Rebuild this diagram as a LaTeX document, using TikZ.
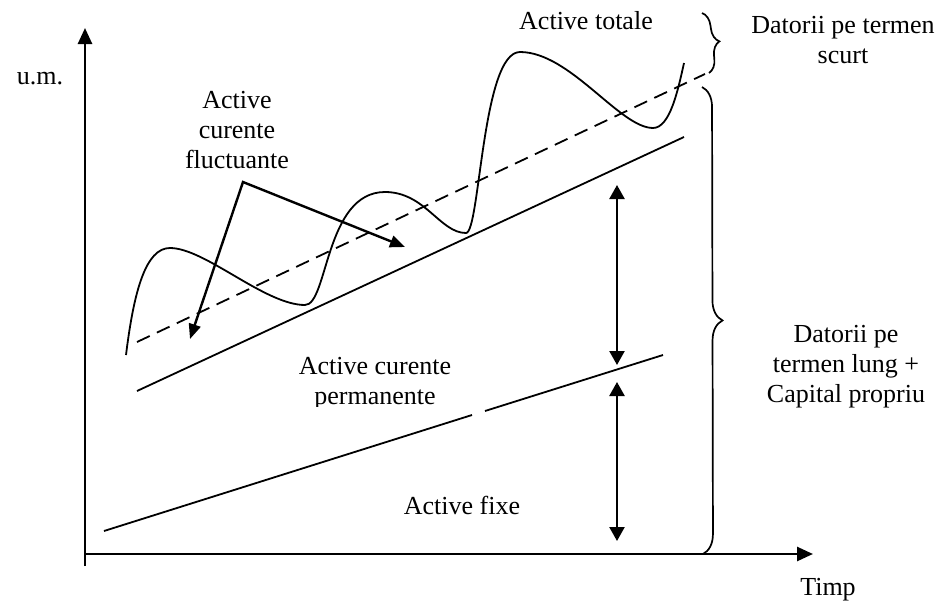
\documentclass[tikz,border=0pt]{standalone}
\usepackage{fontspec}
\setmainfont{Liberation Serif}
\usetikzlibrary{arrows.meta,decorations.pathreplacing}
\begin{document}
\begin{tikzpicture}[x=1pt,y=-1pt,
  lbl/.style={font=\fontsize{26}{30}\selectfont, align=center, inner sep=0pt},
  axisline/.style={line width=2.6pt, -{Triangle[length=16pt,width=14pt]}},
  curve/.style={line width=1.8pt},
  ptr/.style={line width=2.4pt, {Triangle[length=15pt,width=12pt]}-{Triangle[length=15pt,width=12pt]}},
  dbl/.style={line width=2.4pt, {Triangle[length=14pt,width=15pt]}-{Triangle[length=14pt,width=15pt]}},
  brc/.style={line width=1.7pt, decorate, decoration={brace, amplitude=#1}},
]
\useasboundingbox (0,0) rectangle (946,603);

% axes
\coordinate (ybot) at (85,566);
\coordinate (ytop) at (85,28);
\coordinate (xbeg) at (84,554);
\coordinate (xend) at (813,554);
\draw[axisline] (ybot) -- (ytop);
\draw[axisline] (xbeg) -- (xend);

% lines
\coordinate (d1) at (137,342);
\coordinate (d2) at (705,74);
\draw[curve, dash pattern=on 14pt off 8pt] (d1) -- (d2);

\coordinate (s1) at (137,391);
\coordinate (s2) at (684,137);
\draw[curve] (s1) -- (s2);

\coordinate (f1) at (104,531);
\coordinate (f2) at (472,415);
\coordinate (f3) at (485,411);
\coordinate (f4) at (663,355);
\draw[curve] (f1) -- (f2);
\draw[curve] (f3) -- (f4);

% wave
\draw[curve] (126,355) .. controls (134,290) and (146,248) .. (170,248)
  .. controls (205,248) and (265,305) .. (305,305)
  .. controls (328,305) and (325,192) .. (385,192)
  .. controls (425,192) and (440,233) .. (466,233)
  .. controls (480,233) and (482,52) .. (520,52)
  .. controls (570,52) and (620,128) .. (653,128)
  .. controls (670,128) and (678,90) .. (684,63);

% pointer arrows
\coordinate (apex) at (243,182);
\coordinate (fa1) at (190,339);
\coordinate (fa2) at (405,247);
\draw[ptr] (fa1) -- (apex) -- (fa2);

% double arrows
\coordinate (u1) at (617,185);
\coordinate (u2) at (617,365);
\coordinate (l1) at (617,382);
\coordinate (l2) at (617,541);
\draw[dbl] (u1) -- (u2);
\draw[dbl] (l1) -- (l2);

% braces
\coordinate (b1) at (702,13);
\coordinate (b2) at (709,73);
\coordinate (b3) at (702,87);
\coordinate (b4) at (703,554);
\draw[brc=14pt] (b1) -- (b2);
\draw[brc=20pt] (b3) -- (b4);

% labels
\node[lbl] (um) at (40,79) {u.m.};
\node[lbl] (fluct) at (237,130) {Active\\curente\\fluctuante};
\node[lbl] (tot) at (586,21) {Active totale};
\node[lbl] (dts) at (843,40) {Datorii pe termen\\scurt};
\node[lbl] (dtl) at (846,367) {Datorii pe\\termen lung +\\Capital propriu};
\node[lbl] (fixe) at (462,505) {Active fixe};
\node[lbl] (timp) at (828,590) {Timp};
\begin{scope}
\clip (250,340) rectangle (500,406.5);
\node[lbl] (perm) at (375,384) {Active curente\\permanente};
\end{scope}
\end{tikzpicture}
\end{document}
